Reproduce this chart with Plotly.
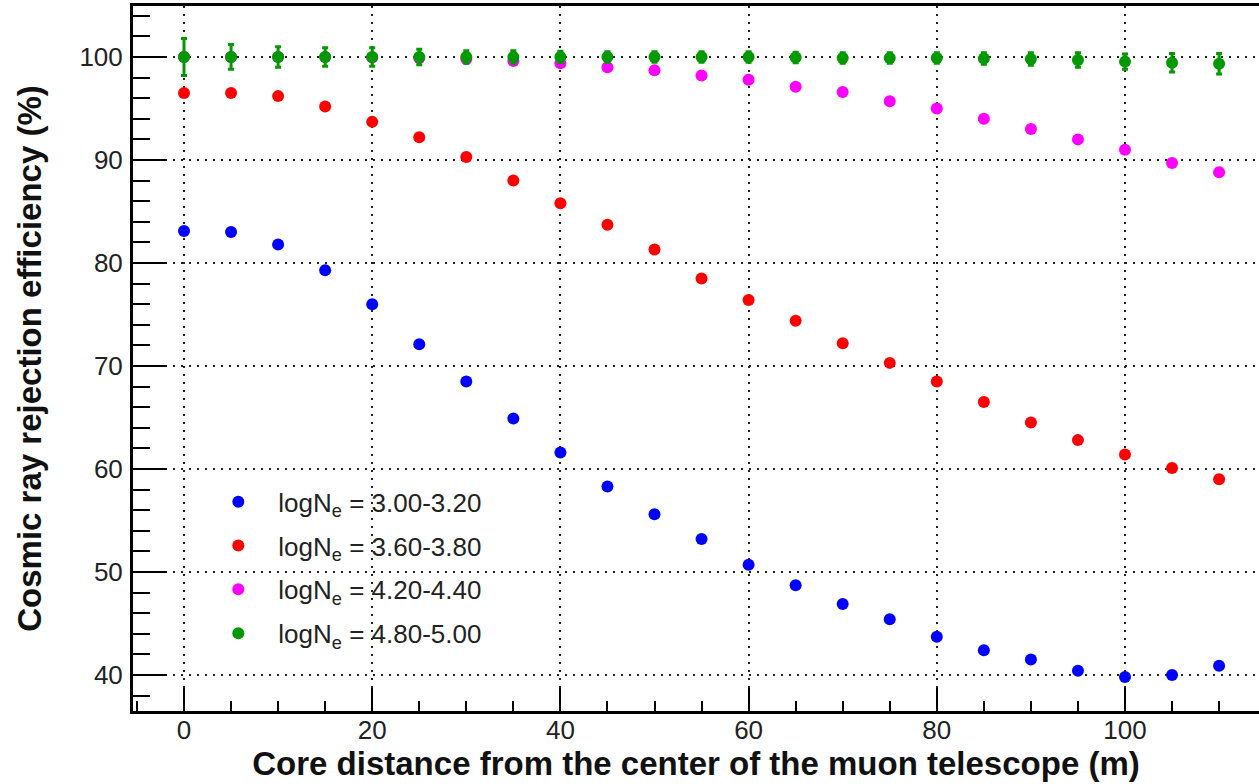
import plotly.graph_objects as go

distance = [0, 5, 10, 15, 20, 25, 30, 35, 40, 45, 50, 55, 60, 65, 70, 75, 80, 85, 90, 95, 100, 105, 110]

eff_300_320 = [83.1, 83.0, 81.8, 79.3, 76.0, 72.1, 68.5, 64.9, 61.6, 58.3, 55.6, 53.2, 50.7,
               48.7, 46.9, 45.4, 43.7, 42.4, 41.5, 40.4, 39.8, 40.0, 40.9]
eff_360_380 = [96.5, 96.5, 96.2, 95.2, 93.7, 92.2, 90.3, 88.0, 85.8, 83.7, 81.3, 78.5, 76.4,
               74.4, 72.2, 70.3, 68.5, 66.5, 64.5, 62.8, 61.4, 60.1, 59.0]
eff_420_440 = [100.0, 100.0, 100.0, 100.0, 99.95, 99.9, 99.8, 99.6, 99.4, 99.0, 98.7, 98.2, 97.8,
               97.1, 96.6, 95.7, 95.0, 94.0, 93.0, 92.0, 91.0, 89.7, 88.8]
eff_480_500 = [100.0, 100.0, 100.0, 100.0, 100.0, 100.0, 100.0, 100.0, 100.0, 100.0, 100.0, 100.0, 100.0,
               99.95, 99.9, 99.9, 99.9, 99.85, 99.8, 99.7, 99.55, 99.45, 99.35]
err_480_500 = [1.8, 1.2, 1.0, 0.9, 0.9, 0.75, 0.6, 0.6, 0.55, 0.5, 0.5, 0.5, 0.5,
               0.5, 0.5, 0.5, 0.5, 0.55, 0.6, 0.7, 0.75, 0.9, 1.0]

series = [
    ("logN<sub>e</sub> = 3.00-3.20", eff_300_320, None, "#0000ff"),
    ("logN<sub>e</sub> = 3.60-3.80", eff_360_380, None, "#ff0000"),
    ("logN<sub>e</sub> = 4.20-4.40", eff_420_440, None, "#ff00ff"),
    ("logN<sub>e</sub> = 4.80-5.00", eff_480_500, err_480_500, "#009900"),
]

fig = go.Figure()
for i, (name, vals, errs, color) in enumerate(series):
    kw = {}
    if errs is not None:
        kw["error_y"] = dict(type="data", array=errs, visible=True, color=color,
                             thickness=3, width=3)
    fig.add_trace(go.Scatter(x=distance, y=vals, mode="markers", name=name,
                             legendgroup=f"g{i}",
                             marker=dict(size=12, color=color, line=dict(width=0)),
                             **kw))

font_family = "Liberation Sans, Arial, sans-serif"

fig.update_layout(
    width=1259, height=784,
    margin=dict(l=133, r=0, t=6, b=73),
    paper_bgcolor="white", plot_bgcolor="white",
    font=dict(family=font_family, color="#222222", size=26),
    showlegend=True,
    legend=dict(x=0.058, y=0.33, xanchor="left", yanchor="top",
                bgcolor="rgba(0,0,0,0)", borderwidth=0, tracegroupgap=7,
                font=dict(size=26, color="#222222"), itemwidth=70),
    shapes=[dict(type="rect", xref="paper", yref="paper", x0=0.048, x1=0.39,
                 y0=0.07, y1=0.339, fillcolor="white", line=dict(width=0),
                 layer="between")],
)

fig.update_xaxes(
    range=[-5.42, 114.24], showline=True, linecolor="black", linewidth=3, mirror=True,
    tickmode="linear", tick0=0, dtick=20, ticks="inside", ticklen=23, tickwidth=2,
    tickcolor="black", ticklabelstandoff=-6,
    minor=dict(tickmode="linear", tick0=0, dtick=5, ticks="inside", ticklen=10,
               tickwidth=2, tickcolor="black", showgrid=False),
    showgrid=True, gridcolor="#222222", gridwidth=2, griddash="2px,6px",
    zeroline=False,
    tickfont=dict(size=26, color="#222222"),
    title=dict(text="<b>Core distance from the center of the muon telescope (m)</b>",
               font=dict(size=33, color="#111111"), standoff=8),
)
fig.update_yaxes(
    range=[36.5, 104.95], showline=True, linecolor="black", linewidth=3, mirror=False,
    tickmode="linear", tick0=0, dtick=10, ticks="inside", ticklen=34, tickwidth=2,
    tickcolor="black", ticklabelstandoff=2,
    minor=dict(tickmode="linear", tick0=0, dtick=2, ticks="inside", ticklen=17,
               tickwidth=2, tickcolor="black", showgrid=False),
    showgrid=True, gridcolor="#222222", gridwidth=2, griddash="2px,6px",
    zeroline=False,
    tickfont=dict(size=26, color="#222222"),
    title=dict(text="<b>Cosmic ray rejection efficiency (%)</b>",
               font=dict(size=33, color="#111111"), standoff=28),
)

fig.write_html("out.html")
